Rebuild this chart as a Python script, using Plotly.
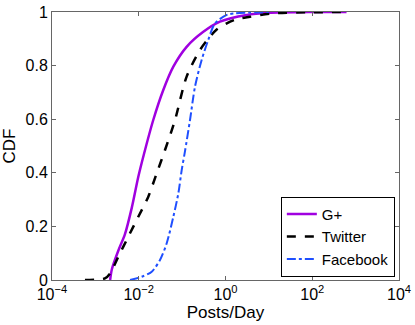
import plotly.graph_objects as go

# values (posts/day, cumulative fraction)
gplus_x = [0.00219, 0.0024, 0.00339, 0.00479, 0.00692, 0.00977, 0.0132, 0.0216, 0.0368,
           0.0627, 0.127, 0.308, 0.746, 3.08, 10, 100, 617]
gplus_y = [0, 0.04, 0.11, 0.17, 0.27, 0.385, 0.47, 0.597, 0.709,
           0.796, 0.87, 0.926, 0.964, 0.989, 0.997, 1.0, 1.0]

twitter_x = [0.000575, 0.00166, 0.00219, 0.00339, 0.00575, 0.00977, 0.0166, 0.0259, 0.0403,
             0.0686, 0.127, 0.258, 0.44, 0.627, 1.07, 1.81, 3.67, 12.6, 100, 617]
twitter_y = [0, 0.006, 0.025, 0.087, 0.162, 0.236, 0.311, 0.398, 0.485,
             0.597, 0.759, 0.858, 0.908, 0.935, 0.958, 0.973, 0.982, 0.995, 0.999, 1.0]

facebook_x = [0.0063, 0.0117, 0.0199, 0.0309, 0.0441, 0.0627, 0.0817, 0.0977, 0.116,
              0.152, 0.198, 0.282, 0.401, 0.573, 1.07, 1.66, 10]
facebook_y = [0, 0.012, 0.031, 0.075, 0.137, 0.236, 0.323, 0.41, 0.479,
              0.597, 0.721, 0.821, 0.896, 0.958, 0.989, 0.995, 1.0]

x_ticks = [1e-4, 1e-2, 1, 1e2, 1e4]
x_labels = ['10<sup>−4</sup>', '10<sup>−2</sup>', '10<sup>0</sup>', '10<sup>2</sup>', '10<sup>4</sup>']
y_ticks = [0, 0.2, 0.4, 0.6, 0.8, 1]
y_labels = ['0', '0.2', '0.4', '0.6', '0.8', '1']

fig = go.Figure()
fig.add_trace(go.Scatter(x=gplus_x, y=gplus_y, name='G+', mode='lines', line_shape='spline',
                         line=dict(color='#a000e0', width=2.5, smoothing=0.8)))
fig.add_trace(go.Scatter(x=twitter_x, y=twitter_y, name='Twitter', mode='lines', line_shape='spline',
                         line=dict(color='black', width=2.5, dash='dash', smoothing=0.8)))
fig.add_trace(go.Scatter(x=facebook_x, y=facebook_y, name='Facebook', mode='lines', line_shape='spline',
                         line=dict(color='#1f4fff', width=2, dash='dashdot', smoothing=0.8)))

axis_common = dict(showline=True, linecolor='#666', linewidth=1, mirror='ticks', ticks='inside',
                   ticklen=4, tickcolor='#666', showgrid=False, zeroline=False, automargin=False,
                   tickfont=dict(size=16, color='black'))

fig.update_xaxes(type='log', range=[-4, 4], tickvals=x_ticks, ticktext=x_labels,
                 title=dict(text='Posts/Day', font=dict(size=17, color='black'), standoff=0),
                 **axis_common)
fig.update_yaxes(range=[0, 1], tickvals=y_ticks, ticktext=y_labels,
                 title=dict(text='CDF', font=dict(size=17, color='black'), standoff=6),
                 **axis_common)

fig.update_layout(
    width=415, height=325,
    margin=dict(l=52, r=16, t=12, b=45, autoexpand=False),
    plot_bgcolor='white', paper_bgcolor='white',
    font=dict(family='Liberation Sans, Arial, sans-serif', color='black'),
    legend=dict(x=0.988, y=0.012, xanchor='right', yanchor='bottom',
                bgcolor='white', bordercolor='black', borderwidth=1,
                font=dict(size=15), itemwidth=30, tracegroupgap=0),
)

# drop the default body margin so the figure sits at the window's top-left corner
fig.write_html("out.html", config={'displayModeBar': False},
               post_script="document.body.style.margin='0';")
